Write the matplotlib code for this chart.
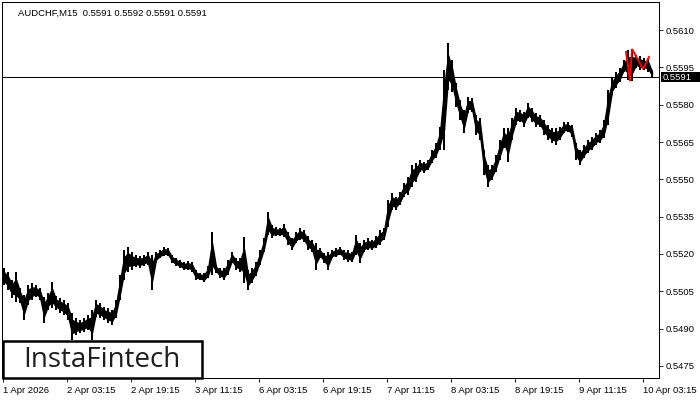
import matplotlib
matplotlib.use("Agg")
import matplotlib.pyplot as plt
from matplotlib.patches import Rectangle
import numpy as np

# ---------------- data (hourly high / low of AUDCHF) ----------------
symbol_title = "AUDCHF,M15  0.5591 0.5592 0.5591 0.5591"
last_price = 0.5591
last_price_label = "0.5591"

bar_high = [
    .55144, .55128, .55095, .55128, .55063, .55035, .55075, .55083, .55075, .55063,
    .55027, .55043, .55087, .55031, .55023, .55015, .55003, .54963, .54943, .54935,
    .54943, .54955, .54975, .55015, .55003, .54987, .54983, .54975, .55015, .55116,
    .55216, .55228, .55208, .55196, .55192, .55196, .55208, .55196, .55208, .55216,
    .55228, .55224, .55196, .55184, .55176, .55168, .55172, .55168, .55136, .55124,
    .55124, .55152, .55288, .55156, .55144, .55144, .55176, .55208, .55184, .55184,
    .55268, .55136, .55144, .55168, .55216, .55264, .55369, .55317, .55308, .55304,
    .55321, .55288, .55264, .55288, .55304, .55296, .55272, .55256, .55244, .55224,
    .55204, .55208, .55216, .55224, .55228, .55216, .55216, .55208, .55276, .55244,
    .55256, .55264, .55256, .55272, .55296, .55304, .55417, .55445, .55429, .55449,
    .55485, .55510, .55558, .55566, .55578, .55570, .55578, .55618, .55646, .55711,
    .55940, .56048, .55980, .55887, .55819, .55779, .55831, .55827, .55759, .55747,
    .55618, .55558, .55558, .55598, .55658, .55706, .55706, .55747, .55787, .55779,
    .55771, .55807, .55787, .55767, .55759, .55739, .55719, .55706, .55706, .55711,
    .55731, .55731, .55719, .55646, .55618, .55638, .55658, .55670, .55686, .55698,
    .55739, .55859, .55907, .55932, .55948, .55980, .56020, .56024, .56000, .55996,
    .55988, .55988, .55940,
]
bar_low = [
    .55075, .55055, .55023, .55007, .55003, .54935, .54995, .55015, .55027, .55015,
    .54923, .54975, .54983, .54975, .54963, .54955, .54935, .54854, .54874, .54882,
    .54886, .54894, .54854, .54947, .54943, .54935, .54923, .54915, .54943, .55015,
    .55095, .55128, .55136, .55148, .55144, .55152, .55156, .55055, .55168, .55184,
    .55192, .55192, .55164, .55152, .55144, .55136, .55136, .55128, .55095, .55095,
    .55087, .55103, .55116, .55124, .55103, .55095, .55116, .55164, .55136, .55128,
    .55083, .55055, .55083, .55112, .55156, .55208, .55276, .55264, .55272, .55272,
    .55268, .55236, .55216, .55244, .55256, .55248, .55216, .55208, .55136, .55184,
    .55164, .55136, .55184, .55188, .55196, .55176, .55168, .55168, .55196, .55164,
    .55208, .55216, .55216, .55224, .55236, .55256, .55308, .55377, .55377, .55397,
    .55429, .55437, .55469, .55489, .55530, .55526, .55538, .55566, .55586, .55618,
    .55618, .55859, .55851, .55791, .55739, .55686, .55767, .55771, .55678, .55658,
    .55518, .55469, .55497, .55530, .55578, .55626, .55570, .55658, .55719, .55731,
    .55711, .55747, .55731, .55711, .55711, .55678, .55658, .55646, .55638, .55658,
    .55686, .55690, .55670, .55578, .55558, .55586, .55606, .55618, .55638, .55646,
    .55666, .55719, .55839, .55867, .55891, .55932, .55899, .55895, .55948, .55940,
    .55940, .55932, .55912,
]

# pattern (red) drawn over the last bars: hour index and price
pattern_hour = [155.5, 156.5, 157.0, 159.75, 161.25]
pattern_price = [0.56012, 0.55895, 0.56024, 0.55944, 0.55992]

price_ticks = [0.5475, 0.5490, 0.5505, 0.5520, 0.5535, 0.5550, 0.5565, 0.5580, 0.5595, 0.5610]
time_tick_labels = ["1 Apr 2026", "2 Apr 03:15", "2 Apr 19:15", "3 Apr 11:15", "6 Apr 03:15",
                    "6 Apr 19:15", "7 Apr 11:15", "8 Apr 03:15", "8 Apr 19:15", "9 Apr 11:15",
                    "10 Apr 03:15"]
logo_text = "InstaFintech"

# ---------------- figure ----------------
W, H = 700, 400
fig = plt.figure(figsize=(7, 4), dpi=100)
fig.patch.set_facecolor("white")

L, R, B, T = 2, 659, 378, 2  # frame in pixels
ax = fig.add_axes([L / W, 1 - B / H, (R - L) / W, (B - T) / H])
ax.set_facecolor("white")

hours = np.arange(len(bar_high))
hi = np.array(bar_high)
lo = np.array(bar_low)
rng = hi - lo
# body of the price trace (central part of each bar's range)
ax.fill_between(hours, lo + 0.25 * rng, hi - 0.25 * rng, color="black",
                linewidth=1.0, edgecolor="black")
# individual bar ranges (spikes)
ax.vlines(hours, lo, hi, colors="black", linewidth=2 * 72 / 100,
          antialiased=False, capstyle="butt")

ax.axhline(last_price, color="black", linewidth=0.6, antialiased=False)
ax.plot(pattern_hour, pattern_price, color="#ff0000", linewidth=1.4, solid_joinstyle="miter")

ax.set_xlim(-0.5, 163.75)
ax.set_ylim(0.547014, 0.56213)

# axes styling
for s in ax.spines.values():
    s.set_linewidth(0.6)
    s.set_color("black")
    s.set_antialiased(False)

ax.yaxis.tick_right()
ax.set_yticks(price_ticks)
ax.set_yticklabels([f"{p:.4f}" for p in price_ticks])
ax.tick_params(axis="y", direction="out", length=3, width=0.6, pad=2,
               labelsize=6.8, labelcolor="black", colors="black")
for lab in ax.get_yticklabels():
    lab.set_fontfamily("Liberation Sans")

time_ticks = [-0.25 + 16 * k for k in range(len(time_tick_labels))]
ax.set_xticks(time_ticks)
ax.set_xticklabels(time_tick_labels, ha="left")
ax.tick_params(axis="x", direction="out", length=3, width=0.6, pad=3,
               labelsize=6.8, labelcolor="black")
for lab in ax.get_xticklabels():
    lab.set_fontfamily("Liberation Sans")

# title
fig.text(18 / W, 1 - 13 / H, symbol_title, fontsize=6.8, family="Liberation Sans",
         va="center", ha="left", color="black")

# current price label box
fig.patches.append(Rectangle((661 / W, 1 - 82 / H), 39 / W, 9.5 / H,
                             transform=fig.transFigure, facecolor="black",
                             edgecolor="none", zorder=5))
fig.text(663 / W, 1 - 77.2 / H, last_price_label, fontsize=6.8, family="Liberation Sans",
         va="center", ha="left", color="white", zorder=6)

# logo box
fig.patches.append(Rectangle((3 / W, 1 - 378 / H), 199 / W, 37 / H,
                             transform=fig.transFigure, facecolor="white",
                             edgecolor="black", linewidth=1.8, zorder=5))
fig.text(102 / W, 1 - 360 / H, logo_text, fontsize=20, family="Open Sans",
         va="center", ha="center", color="#1e1e1e", zorder=6)

fig.savefig("out.png", dpi=100, facecolor="white")
